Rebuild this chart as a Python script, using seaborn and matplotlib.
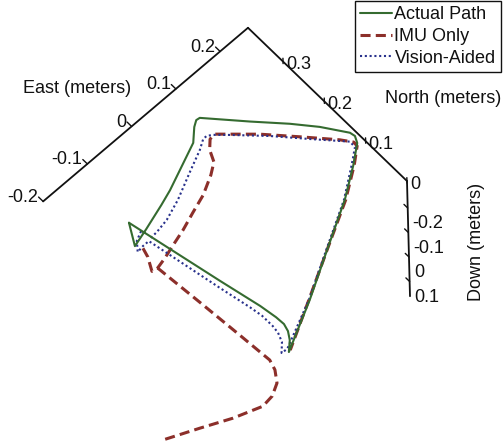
import numpy as np
import pandas as pd
import matplotlib
matplotlib.use("Agg")
import matplotlib.pyplot as plt
import seaborn as sns
from matplotlib.lines import Line2D

# ---------------------------------------------------------------------------
# Trajectories in meters (East, North); the runs stay on the floor plane.
# ---------------------------------------------------------------------------
PATH_DOWN = 0.0

actual_east = [-0.031, 0.006, 0.023, 0.028, 0.029, 0.025, 0.016, 0.000,
               0.090, 0.173, 0.257, 0.311, 0.343, 0.349, 0.347,
               0.318, 0.286, 0.241, 0.185, 0.178, 0.167, 0.146,
               0.059, 0.030, -0.018, -0.053, -0.031]
actual_north = [0.363, 0.182, 0.103, 0.070, 0.052, 0.038, 0.024, 0.009,
                0.055, 0.102, 0.149, 0.186, 0.211, 0.223, 0.233,
                0.275, 0.313, 0.361, 0.423, 0.424, 0.417, 0.397,
                0.360, 0.350, 0.335, 0.325, 0.363]

imu_east_loop = [-0.046, -0.051, -0.064, -0.053, -0.032, -0.006, 0.025, 0.058,
                 0.093, 0.127, 0.147, 0.157, 0.171, 0.183, 0.237, 0.282,
                 0.326, 0.340, 0.339, 0.312, 0.258, 0.173, 0.089, 0.004]
imu_north_loop = [0.313, 0.296, 0.272, 0.270, 0.275, 0.283, 0.292, 0.304,
                  0.316, 0.334, 0.348, 0.369, 0.383, 0.384, 0.333, 0.284,
                  0.235, 0.216, 0.207, 0.185, 0.148, 0.102, 0.056, 0.010]
imu_east_drift = [-0.053, -0.045, -0.038, -0.033, -0.039, -0.053, -0.075,
                  -0.099, -0.150, -0.202, -0.261]
imu_north_drift = [0.270, 0.176, 0.087, 0.020, 0.001, -0.019, -0.031,
                   -0.034, -0.016, 0.008, 0.034]

vision_east = [-0.027, -0.044, -0.057, -0.043, -0.030, -0.003, 0.009, 0.013,
               0.013, 0.011, 0.004, -0.010, 0.002, 0.089, 0.172, 0.256,
               0.309, 0.335, 0.336, 0.291, 0.247, 0.200, 0.180, 0.171,
               0.163, 0.145, 0.106, 0.056, 0.018, -0.009, -0.024]
vision_north = [0.338, 0.330, 0.314, 0.316, 0.316, 0.173, 0.113, 0.088,
                0.062, 0.047, 0.030, 0.016, 0.015, 0.056, 0.103, 0.150,
                0.188, 0.208, 0.221, 0.270, 0.319, 0.366, 0.385, 0.391,
                0.391, 0.380, 0.362, 0.338, 0.324, 0.319, 0.318]

# Axis extents and ticks (meters)
EAST_LIM = (-0.2, 0.263)
NORTH_LIM = (0.0, 0.385)
DOWN_LIM = (-0.31, 0.16)
east_ticks = [-0.2, -0.1, 0.0, 0.1, 0.2]
east_tick_labels = ["-0.2", "-0.1", "0", "0.1", "0.2"]
north_ticks = [0.0, 0.1, 0.2, 0.3]
north_tick_labels = ["0", "0.1", "0.2", "0.3"]
down_ticks = [-0.2, -0.1, 0.0, 0.1]
down_tick_labels = ["-0.2", "-0.1", "0", "0.1"]

series_names = ["Actual Path", "IMU Only", "Vision-Aided"]
series_colors = {"Actual Path": "#356b30", "IMU Only": "#8c2f2a",
                 "Vision-Aided": "#28318c"}
series_widths = {"Actual Path": 1.5, "IMU Only": 2.2, "Vision-Aided": 1.5}
series_dashes = {"Actual Path": "", "IMU Only": (3.3, 1.7),
                 "Vision-Aided": (1.0, 1.3)}

# Oblique view of the (East, North, Down) box onto the drawing plane
VIEW_ORIGIN = (292.6, 355.6)
EAST_DIR = (442.5, -375.0)
NORTH_DIR = (-413.0, -398.0)
DOWN_DIR = (6.4, 245.0)


def project(e, n, d):
    e = np.asarray(e, dtype=float)
    n = np.asarray(n, dtype=float)
    d = np.asarray(d, dtype=float)
    x = VIEW_ORIGIN[0] + e * EAST_DIR[0] + n * NORTH_DIR[0] + d * DOWN_DIR[0]
    y = VIEW_ORIGIN[1] + e * EAST_DIR[1] + n * NORTH_DIR[1] + d * DOWN_DIR[1]
    return x, y


sns.set_theme(style="white")
plt.rcParams["font.family"] = ["Liberation Sans", "DejaVu Sans"]
TEXT = "#111111"
FS = 13

fig = plt.figure(figsize=(5.03, 4.44), dpi=100)
ax = fig.add_axes([0, 0, 1, 1])
ax.set_xlim(0, 503)
ax.set_ylim(444, 0)
ax.set_axis_off()

pieces = [
    ("IMU Only", "loop", imu_east_loop, imu_north_loop),
    ("IMU Only", "drift", imu_east_drift, imu_north_drift),
    ("Vision-Aided", "loop", vision_east, vision_north),
    ("Actual Path", "loop", actual_east, actual_north),
]
frames = []
for name, part, e, n in pieces:
    x, y = project(e, n, PATH_DOWN)
    frames.append(pd.DataFrame({"x": x, "y": y, "series": name, "part": part}))
df = pd.concat(frames, ignore_index=True)

for name in ["IMU Only", "Vision-Aided", "Actual Path"]:
    sub = df[df["series"] == name]
    sns.lineplot(data=sub, x="x", y="y", style="series", units="part",
                 estimator=None, sort=False, dashes={name: series_dashes[name]},
                 color=series_colors[name], linewidth=series_widths[name],
                 legend=False, ax=ax)

# Box axes
axis_kw = dict(color="#111111", lw=1.3, solid_capstyle="round", zorder=5)
ex, ey = project(list(EAST_LIM), [NORTH_LIM[1]] * 2, [DOWN_LIM[0]] * 2)
ax.plot(ex, ey, **axis_kw)
nx, ny = project([EAST_LIM[1]] * 2, list(NORTH_LIM), [DOWN_LIM[0]] * 2)
ax.plot(nx, ny, **axis_kw)
dx, dy = project([EAST_LIM[1]] * 2, [NORTH_LIM[0]] * 2, list(DOWN_LIM))
ax.plot(dx, dy, **axis_kw)

tick_kw = dict(color="#111111", lw=1.0, zorder=5)
for v, lab in zip(east_ticks, east_tick_labels):
    tx, ty = project(v, NORTH_LIM[1], DOWN_LIM[0])
    t2x, t2y = project(v, NORTH_LIM[1] + 0.011, DOWN_LIM[0])
    ax.plot([tx, t2x], [ty, t2y], **tick_kw)
    ax.text(tx - 5, ty - 4, lab, ha="right", va="center", fontsize=FS, color=TEXT)
for v, lab in zip(north_ticks, north_tick_labels):
    tx, ty = project(EAST_LIM[1], v, DOWN_LIM[0])
    t2x, t2y = project(EAST_LIM[1], v, DOWN_LIM[0] - 0.022)
    ax.plot([tx, t2x], [ty + 2, t2y + 2], **tick_kw)
    ax.text(tx + 3, ty + 3, lab, ha="left", va="center", fontsize=FS, color=TEXT)
for v, lab in zip(down_ticks, down_tick_labels):
    tx, ty = project(EAST_LIM[1], NORTH_LIM[0], v)
    t2x, t2y = project(EAST_LIM[1], NORTH_LIM[0] + 0.009, v)
    ax.plot([tx, t2x], [ty, t2y], **tick_kw)
    ax.text(tx + 5, ty + 16, lab, ha="left", va="center", fontsize=FS, color=TEXT)

ax.text(77, 88.5, "East (meters)", ha="center", va="center", fontsize=FS, color=TEXT)
ax.text(443, 98, "North (meters)", ha="center", va="center", fontsize=FS, color=TEXT)
ax.text(477, 242, "Down (meters)", ha="center", va="center", rotation=90,
        fontsize=FS, color=TEXT)

handles = [Line2D([], [], color=series_colors[n], lw=series_widths[n],
                  dashes=series_dashes[n] if series_dashes[n] else (None, None))
           for n in series_names]
leg = ax.legend(handles, series_names, loc="upper right",
                bbox_to_anchor=(501, 1), bbox_transform=ax.transData,
                fontsize=FS, frameon=True, fancybox=False, framealpha=1,
                edgecolor="#111111", handlelength=1.75, handletextpad=0.15,
                borderpad=0.3, labelspacing=0.26, borderaxespad=0)
leg.get_frame().set_linewidth(1.0)
for t in leg.get_texts():
    t.set_color(TEXT)

fig.savefig("out.png", dpi=100)
